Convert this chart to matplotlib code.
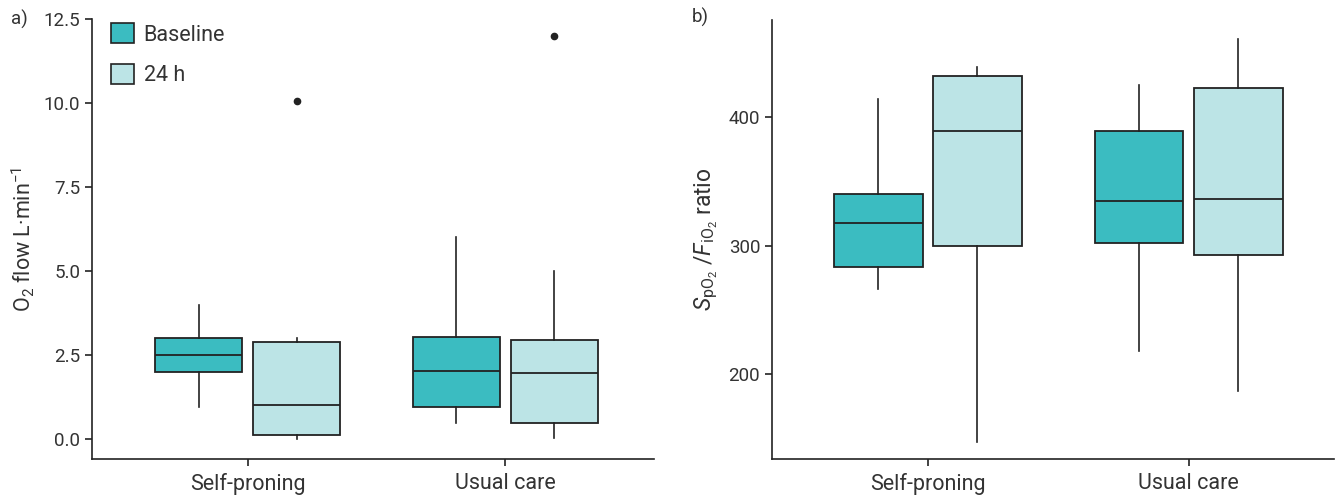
import matplotlib
matplotlib.use("Agg")
import matplotlib.pyplot as plt
from matplotlib.patches import Patch

plt.rcParams['font.family'] = ['Roboto', 'DejaVu Sans']
plt.rcParams['mathtext.fontset'] = 'custom'
plt.rcParams['mathtext.rm'] = 'Roboto'
plt.rcParams['mathtext.it'] = 'Roboto:italic'

# data
groups = ["Self-proning", "Usual care"]
timepoints = ["Baseline", "24 h"]

# panel a: O2 flow (L/min), order: [self-proning, usual care]
o2_base_whislo = [0.95, 0.47]
o2_base_q1 = [2.0, 0.95]
o2_base_med = [2.5, 2.02]
o2_base_q3 = [3.0, 3.04]
o2_base_whishi = [4.0, 6.02]
o2_base_fliers = [[], []]

o2_24h_whislo = [0.0, 0.04]
o2_24h_q1 = [0.13, 0.48]
o2_24h_med = [1.0, 1.98]
o2_24h_q3 = [2.88, 2.96]
o2_24h_whishi = [3.0, 5.0]
o2_24h_fliers = [[10.07], [12.0]]

# panel b: SpO2/FiO2 ratio
sf_base_whislo = [266, 218]
sf_base_q1 = [283.6, 302.3]
sf_base_med = [318, 335]
sf_base_q3 = [340, 389]
sf_base_whishi = [414, 425.5]

sf_24h_whislo = [147, 186.4]
sf_24h_q1 = [300, 293]
sf_24h_med = [389.6, 336.4]
sf_24h_q3 = [432, 422.7]
sf_24h_whishi = [439, 461.3]

BASE_COL = "#3bbcc1"
H24_COL = "#bce4e6"
EDGE = "#222222"
TXT = "#333333"
FS = 15.5


def make_stats(lo, q1, med, q3, hi, fliers=None):
    stats = []
    for i in range(len(lo)):
        stats.append({
            "whislo": lo[i], "q1": q1[i], "med": med[i], "q3": q3[i],
            "whishi": hi[i], "fliers": fliers[i] if fliers else [],
        })
    return stats


def draw_boxes(ax, stats, pos, color):
    ax.bxp(stats, positions=pos, widths=0.34, patch_artist=True,
           showcaps=False, manage_ticks=False,
           boxprops=dict(facecolor=color, edgecolor=EDGE, linewidth=1.3),
           medianprops=dict(color=EDGE, linewidth=1.3),
           whiskerprops=dict(color=EDGE, linewidth=1.2),
           flierprops=dict(marker="o", markerfacecolor="#222222",
                           markeredgecolor="#222222", markersize=4.5))


def style_axis(ax):
    for s in ["top", "right"]:
        ax.spines[s].set_visible(False)
    for s in ["left", "bottom"]:
        ax.spines[s].set_color(EDGE)
        ax.spines[s].set_linewidth(1.2)
    ax.tick_params(colors=EDGE, labelcolor=TXT, length=5, width=1.2, direction="out")
    ax.tick_params(axis="y", labelsize=13.5)
    ax.tick_params(axis="x", labelsize=FS, pad=5)
    ax.set_xticks([0, 1])
    ax.set_xticklabels(groups)


fig = plt.figure(figsize=(13.35, 4.95), dpi=100)
ax1 = fig.add_axes([0.0689, 0.0721, 0.421, 0.8889])
ax2 = fig.add_axes([0.5783, 0.0721, 0.4207, 0.8875])

off = 0.19
pos_base = [g - off for g in range(len(groups))]
pos_24h = [g + off for g in range(len(groups))]

# panel a
draw_boxes(ax1, make_stats(o2_base_whislo, o2_base_q1, o2_base_med, o2_base_q3,
                           o2_base_whishi, o2_base_fliers), pos_base, BASE_COL)
draw_boxes(ax1, make_stats(o2_24h_whislo, o2_24h_q1, o2_24h_med, o2_24h_q3,
                           o2_24h_whishi, o2_24h_fliers), pos_24h, H24_COL)
style_axis(ax1)
ax1.set_xlim(-0.603, 1.576)
ax1.set_ylim(-0.605, 12.5)
ax1.set_yticks([0, 2.5, 5, 7.5, 10, 12.5])
ax1.set_yticklabels(["0.0", "2.5", "5.0", "7.5", "10.0", "12.5"])
ax1.set_ylabel(r"O$_2$ flow L·min$^{-1}$", fontsize=FS, color=TXT, labelpad=5)

handles = [Patch(facecolor=BASE_COL, edgecolor=EDGE, linewidth=1.2, label=timepoints[0]),
           Patch(facecolor=H24_COL, edgecolor=EDGE, linewidth=1.2, label=timepoints[1])]
leg = ax1.legend(handles=handles, loc="upper left", bbox_to_anchor=(0.0, 1.035),
                 frameon=False, fontsize=FS, handlelength=1.05, handleheight=1.05,
                 labelspacing=0.85, handletextpad=0.45)
for t in leg.get_texts():
    t.set_color(TXT)

# panel b
draw_boxes(ax2, make_stats(sf_base_whislo, sf_base_q1, sf_base_med, sf_base_q3,
                           sf_base_whishi), pos_base, BASE_COL)
draw_boxes(ax2, make_stats(sf_24h_whislo, sf_24h_q1, sf_24h_med, sf_24h_q3,
                           sf_24h_whishi), pos_24h, H24_COL)
style_axis(ax2)
ax2.set_xlim(-0.598, 1.556)
ax2.set_ylim(133.5, 475.9)
ax2.set_yticks([200, 300, 400])
ax2.set_ylabel(r"$S_{\mathrm{pO_2}}$ /$F_{\mathrm{iO_2}}$ ratio", fontsize=16.5,
               color=TXT, labelpad=6)

fig.text(0.008, 0.96, "a)", fontsize=13.5, color=TXT, va="center")
fig.text(0.518, 0.964, "b)", fontsize=13.5, color=TXT, va="center")

fig.savefig("out.png", dpi=100)
